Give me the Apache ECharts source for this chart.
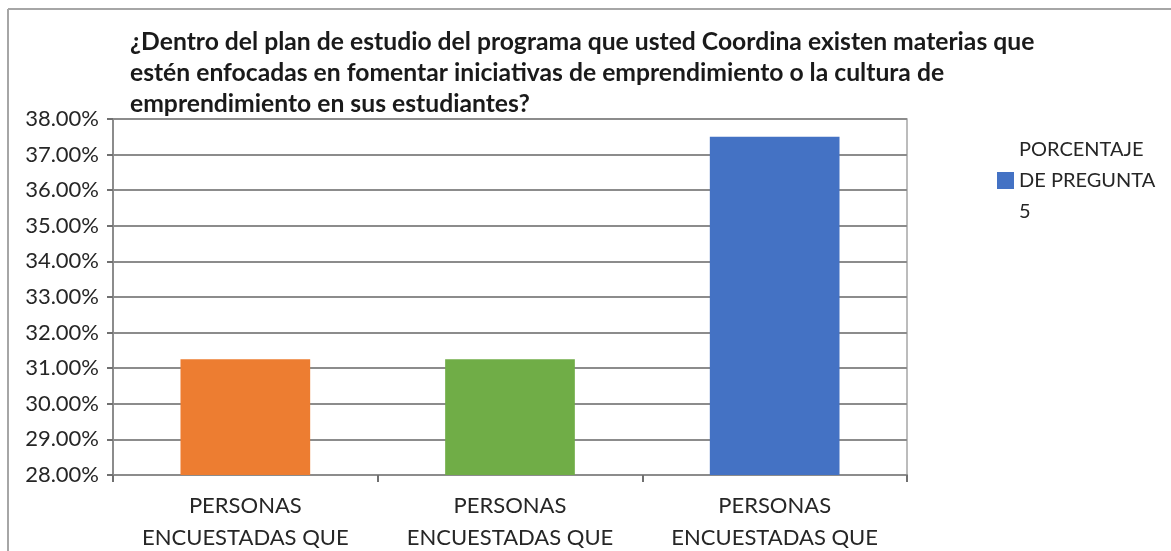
<!DOCTYPE html>
<html>
<head>
    <meta charset="utf-8">
    <title>Pregunta 5</title>
    <script src="https://cdn.jsdelivr.net/npm/echarts@6/dist/echarts.min.js"></script>
</head>
<style>
    body { margin: 0; background: #fff; }
</style>
<body>
    <div id="main" style="width: 1171px;height:551px;"></div>
    <script type="text/javascript">
        // datos
        var categorias = ['PERSONAS\nENCUESTADAS QUE', 'PERSONAS\nENCUESTADAS QUE', 'PERSONAS\nENCUESTADAS QUE'];
        var valores = [31.25, 31.25, 37.5];
        var colores = ['#ED7D31', '#70AD47', '#4472C4'];
        var nombreSerie = 'PORCENTAJE DE PREGUNTA 5';
        var titulo = '¿Dentro del plan de estudio del programa que usted Coordina existen materias que\n' +
            'estén enfocadas en fomentar iniciativas de emprendimiento o la cultura de\n' +
            'emprendimiento en sus estudiantes?';

        var myChart = echarts.init(document.getElementById('main'));
        var fuente = 'Lato, "Open Sans", sans-serif';

        var option = {
            animation: false,
            textStyle: { fontFamily: fuente },
            title: {
                text: titulo,
                left: 125,
                top: 22,
                textStyle: {
                    fontFamily: fuente,
                    fontSize: 24.7,
                    fontWeight: 'bold',
                    color: '#1a1a1a',
                    lineHeight: 31
                }
            },
            legend: {
                left: 997,
                top: 134,
                padding: 0,
                icon: 'rect',
                itemWidth: 17,
                itemHeight: 17,
                data: [{ name: nombreSerie, itemStyle: { color: '#4472C4' } }],
                formatter: function () { return 'PORCENTAJE\nDE PREGUNTA\n5'; },
                textStyle: { fontFamily: fuente, fontSize: 20, color: '#262626', lineHeight: 31 }
            },
            grid: {
                left: 113,
                top: 119,
                right: 264,
                bottom: 76,
                outerBoundsMode: 'none',
                containLabel: false,
                show: true,
                borderColor: '#a6a6a6',
                borderWidth: 1.5
            },
            xAxis: {
                type: 'category',
                data: categorias,
                axisLine: { lineStyle: { color: '#8c8c8c', width: 2 } },
                axisTick: { show: true, length: 7, lineStyle: { color: '#707070', width: 2 } },
                axisLabel: {
                    interval: 0,
                    hideOverlap: false,
                    margin: 15,
                    fontSize: 22,
                    color: '#262626',
                    lineHeight: 32,
                    fontFamily: fuente
                }
            },
            yAxis: {
                type: 'value',
                min: 28,
                max: 38,
                interval: 1,
                axisLine: { show: true, lineStyle: { color: '#8c8c8c', width: 2 } },
                axisTick: { show: true, length: 6, lineStyle: { color: '#707070', width: 2 } },
                splitLine: { lineStyle: { color: '#8c8c8c', width: 2 } },
                axisLabel: {
                    margin: 14,
                    fontSize: 22,
                    color: '#262626',
                    fontFamily: fuente,
                    formatter: function (v) { return v.toFixed(2) + '%'; }
                }
            },
            graphic: [
                { type: 'line', shape: { x1: 8, y1: 9, x2: 1171, y2: 9 }, style: { stroke: '#a6a6a6', lineWidth: 2 } },
                { type: 'line', shape: { x1: 8, y1: 9, x2: 8, y2: 551 }, style: { stroke: '#a6a6a6', lineWidth: 2 } }
            ],
            series: [{
                name: nombreSerie,
                type: 'bar',
                barWidth: '49%',
                data: valores.map(function (v, i) {
                    return { value: v, itemStyle: { color: colores[i] } };
                })
            }]
        };
        myChart.setOption(option);
    </script>
</body>
</html>
